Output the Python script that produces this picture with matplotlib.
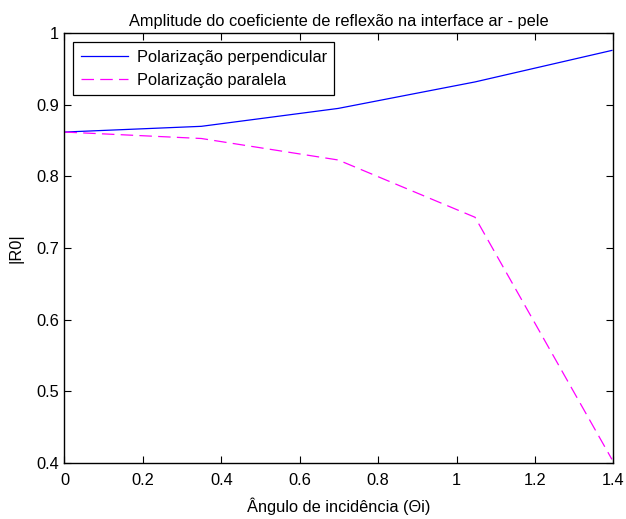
import matplotlib
matplotlib.use('Agg')
import matplotlib.pyplot as plt

plt.rcParams['font.family'] = ['Liberation Sans', 'DejaVu Sans']

# incidence angle (rad) and reflection amplitude for each polarization
theta = [0.0, 0.349, 0.698, 1.047, 1.396]
r_perp = [0.862, 0.870, 0.895, 0.932, 0.976]
r_par = [0.862, 0.853, 0.823, 0.743, 0.405]

fs = 11.8

fig = plt.figure(figsize=(6.26, 5.19), dpi=100)
ax = fig.add_axes([0.103, 0.108, 0.877, 0.828])

ax.plot(theta, r_perp, color='#0000ff', lw=0.9, label='Polarização perpendicular')
ax.plot(theta, r_par, color='#ff00ff', lw=0.9, dashes=(10, 5), label='Polarização paralela')

ax.set_xlim(0, 1.4)
ax.set_ylim(0.4, 1)
ax.set_xticks([0, 0.2, 0.4, 0.6, 0.8, 1, 1.2, 1.4])
ax.set_xticklabels(['0', '0.2', '0.4', '0.6', '0.8', '1', '1.2', '1.4'])
ax.set_yticks([0.4, 0.5, 0.6, 0.7, 0.8, 0.9, 1])
ax.set_yticklabels(['0.4', '0.5', '0.6', '0.7', '0.8', '0.9', '1'])
ax.tick_params(direction='in', top=True, right=True, length=5, labelsize=fs)
ax.tick_params(axis='x', pad=7)
ax.tick_params(axis='y', pad=4)
for s in ax.spines.values():
    s.set_linewidth(1.0)

ax.set_title('Amplitude do coeficiente de reflexão na interface ar - pele', fontsize=fs, pad=5)
ax.set_xlabel('Ângulo de incidência (Θi)', fontsize=fs, labelpad=7)
ax.set_ylabel('|R0|', fontsize=fs, labelpad=9)

leg = ax.legend(loc='upper left', fancybox=False, framealpha=1, edgecolor='black',
                fontsize=fs, handlelength=2.9, handletextpad=0.5, labelspacing=0.5,
                borderaxespad=0.55, borderpad=0.45)
leg.get_frame().set_linewidth(0.9)

fig.savefig('out.png', dpi=100)
